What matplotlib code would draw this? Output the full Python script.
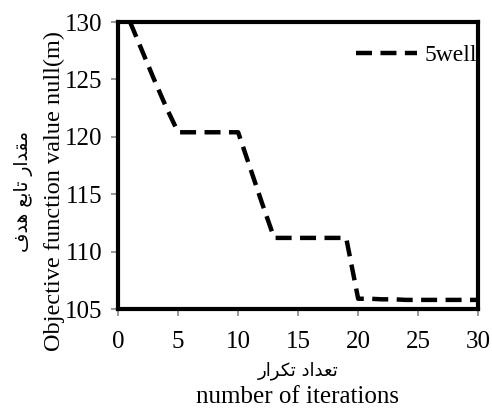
import matplotlib
matplotlib.use("Agg")
import matplotlib.pyplot as plt

# data
iterations = list(range(1, 31))
objective = [130.0, 127.5, 125.0, 122.6, 120.4, 120.4, 120.4, 120.4, 120.4, 120.4,
             117.3, 114.2, 111.2, 111.2, 111.2, 111.2, 111.2, 111.2, 111.2, 105.9,
             105.9, 105.85, 105.85, 105.8, 105.8, 105.8, 105.8, 105.8, 105.8, 105.8]
series_name = "5well"
x_ticks = [0, 5, 10, 15, 20, 25, 30]
y_ticks = [105, 110, 115, 120, 125, 130]

# Arabic labels in presentation forms (matplotlib does no shaping / bidi)
def visual(codes):
    return "".join(chr(c) for c in codes)[::-1]

ar_ylabel = visual([0xFEE3, 0xFED8, 0xFEAA, 0xFE8D, 0xFEAD, 0x20,
                    0xFE97, 0xFE8E, 0xFE91, 0xFECA, 0x20,
                    0xFEEB, 0xFEAA, 0xFED1])
ar_xlabel = visual([0xFE97, 0xFECC, 0xFEAA, 0xFE8D, 0xFEA9, 0x20,
                    0xFE97, 0xFB91, 0xFEAE, 0xFE8D, 0xFEAD])

plt.rcParams['font.family'] = ['Liberation Serif', 'DejaVu Sans']

fig = plt.figure(figsize=(4.92, 4.16), dpi=100)
ax = fig.add_axes([0.240, 0.257, 0.732, 0.690])

line, = ax.plot(iterations, objective, color='black', linewidth=3.2,
                linestyle='--', label=series_name)
line.set_dashes([3.6, 1.9])

ax.set_xlim(0, 30)
ax.set_ylim(105, 130)
ax.set_xticks(x_ticks)
ax.set_yticks(y_ticks)
ax.tick_params(labelsize=18, direction='out', length=5, width=1.2,
               color='#888888', pad=6)
ax.tick_params(axis='x', pad=11)
for s in ax.spines.values():
    s.set_linewidth(3.0)
    s.set_color('black')

ax.legend(loc='upper right', bbox_to_anchor=(1.035, 0.97), frameon=False,
          fontsize=17, handlelength=2.6, handletextpad=0.3, borderaxespad=0.2)

fig.text(0.605, 0.11, ar_xlabel, ha='center', va='center', fontsize=13,
         family=['DejaVu Sans'])
fig.text(0.605, 0.046, "number of iterations", ha='center', va='center', fontsize=18)
fig.text(0.11, 0.54, "Objective function value null(m)", ha='center', va='center',
         rotation=90, fontsize=17.5)
fig.text(0.047, 0.54, ar_ylabel, ha='center', va='center', rotation=90, fontsize=13.5,
         family=['DejaVu Sans'])

fig.savefig("out.png", dpi=100)
